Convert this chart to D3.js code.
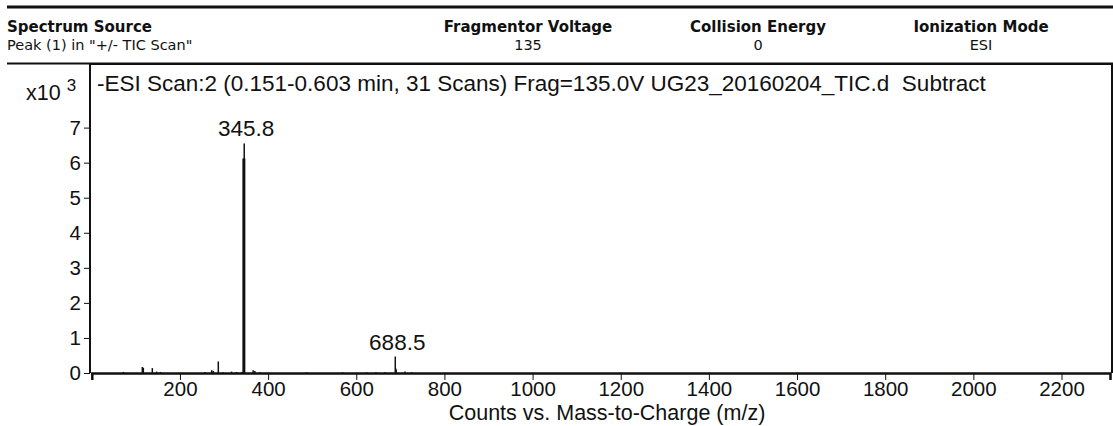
<!DOCTYPE html>
<html>
<head>
<meta charset="utf-8">
<script src="https://cdn.jsdelivr.net/npm/d3@7"></script>
<style>
  body{margin:0;background:#fff;}
  .head{font-family:"DejaVu Sans",sans-serif;fill:#111;}
  .axisGraph text{font-family:"Liberation Sans",Arial,sans-serif;font-size:20.5px;fill:#111;}
  .axisGraph path,.axisGraph line{stroke:#111;}
  .labelGraph{font-family:"Liberation Sans",Arial,sans-serif;fill:#111;}
</style>
</head>
<body>
<svg id="chart" width="1113" height="426"></svg>
<script>

// header table
var headTitles = ["Fragmentor Voltage", "Collision Energy", "Ionization Mode"];
var headValues = ["135", "0", "ESI"];
var headCenters = [528, 758, 981];

// spectrum sticks: m/z and counts
var mz =     [71.5, 114.6, 116.9, 137.3, 147, 156, 257, 272, 275.7, 287, 298, 317, 328.6, 340,
  345.0, 345.8, 366, 370, 381.6, 487.5, 569, 623.6, 644.7, 665, 689.6, 688.5, 690.4, 710.6, 725.7];
var counts = [30, 170, 150, 140, 40, 30, 30, 80, 60, 330, 20, 40, 30, 30,
  6120, 6550, 80, 60, 20, 20, 20, 20, 20, 20, 130, 470, 90, 40, 20];

// labelled peaks
var peakMz = [345.8, 688.5];
var peakCounts = [6550, 470];

var xTicks = [0, 200, 400, 600, 800, 1000, 1200, 1400, 1600, 1800, 2000, 2200];
var yTicks = [0, 1, 2, 3, 4, 5, 6, 7];

/************************************************************************************************************/

var svg = d3.select("#chart");
svg.margin = {left: 90, top: 64, right: 1112, zero: 373};

var x = d3.scaleLinear().domain([0, 2310]).range([91.8, 1110]);
var y = d3.scaleLinear().domain([0, 7000]).range([svg.margin.zero, 127.6]);

// top rules
svg.append("line").attr("x1", 7).attr("x2", 1113).attr("y1", 7).attr("y2", 7)
  .attr("stroke", "#111").attr("stroke-width", 3);
svg.append("line").attr("x1", 7).attr("x2", 1113).attr("y1", 63.5).attr("y2", 63.5)
  .attr("stroke", "#111").attr("stroke-width", 2);

svg.append("text").attr("class", "head").attr("x", 7).attr("y", 32)
  .attr("font-size", 15).attr("font-weight", "bold").text("Spectrum Source");
svg.append("text").attr("class", "head").attr("x", 7).attr("y", 50)
  .attr("font-size", 14.5).text("Peak (1) in \"+/- TIC Scan\"");

headTitles.forEach(function(t, i){
  svg.append("text").attr("class", "head").attr("x", headCenters[i]).attr("y", 32)
    .attr("text-anchor", "middle").attr("font-size", 15).attr("font-weight", "bold").text(t);
  svg.append("text").attr("class", "head").attr("x", headCenters[i]).attr("y", 50)
    .attr("text-anchor", "middle").attr("font-size", 14.5).text(headValues[i]);
});

// plot frame
svg.append("path")
  .attr("d", "M" + svg.margin.left + "," + svg.margin.zero + "V" + svg.margin.top + "H" + svg.margin.right + "V" + svg.margin.zero)
  .attr("fill", "none").attr("stroke", "#111").attr("stroke-width", 2);

// axes
svg.axisx = svg.append("g").attr("class", "axisGraph")
  .attr("transform", "translate(0," + svg.margin.zero + ")")
  .call(d3.axisBottom(x).tickValues(xTicks).tickSize(7).tickPadding(1)
    .tickFormat(function(d){ return d === 0 ? "" : d; }));
svg.axisx.select(".domain").attr("stroke-width", 2.5);

svg.axisy = svg.append("g").attr("class", "axisGraph")
  .attr("transform", "translate(" + svg.margin.left + ",0)")
  .call(d3.axisLeft(y).tickValues(yTicks.map(function(d){ return d * 1000; })).tickSize(6).tickPadding(3)
    .tickFormat(function(d){ return d / 1000; }));
svg.axisy.select(".domain").remove();
svg.axisy.selectAll("text").attr("font-size", 21.5);

// sticks
svg.append("g").selectAll("line").data(mz).enter().append("line")
  .attr("x1", function(d){ return x(d); })
  .attr("x2", function(d){ return x(d); })
  .attr("y1", y(0))
  .attr("y2", function(d, i){ return y(counts[i]); })
  .attr("stroke", "#111")
  .attr("stroke-width", function(d, i){ return (counts[i] > 1000 && counts[i] < 6500) ? 3 : 1.5; });

// peak labels
svg.append("g").selectAll("text").data(peakMz).enter().append("text")
  .attr("class", "labelGraph")
  .attr("x", function(d){ return x(d) + 2; })
  .attr("y", function(d, i){ return y(peakCounts[i]) - 7; })
  .attr("text-anchor", "middle").attr("font-size", 22.5)
  .text(function(d){ return d.toFixed(1); });

// exponent and title
var expo = svg.append("text").attr("class", "labelGraph").attr("x", 26).attr("y", 100).attr("font-size", 21.5);
expo.append("tspan").text("x10");
expo.append("tspan").attr("dx", 6).attr("dy", -9).attr("font-size", 17).text("3");

svg.append("text").attr("class", "labelGraph").attr("x", 97).attr("y", 91).attr("font-size", 22.5)
  .attr("xml:space", "preserve")
  .text("-ESI Scan:2 (0.151-0.603 min, 31 Scans) Frag=135.0V UG23_20160204_TIC.d  Subtract");

svg.append("text").attr("class", "labelGraph").attr("x", 607).attr("y", 420).attr("font-size", 21.5)
  .attr("text-anchor", "middle").text("Counts vs. Mass-to-Charge (m/z)");

</script>
</body>
</html>
